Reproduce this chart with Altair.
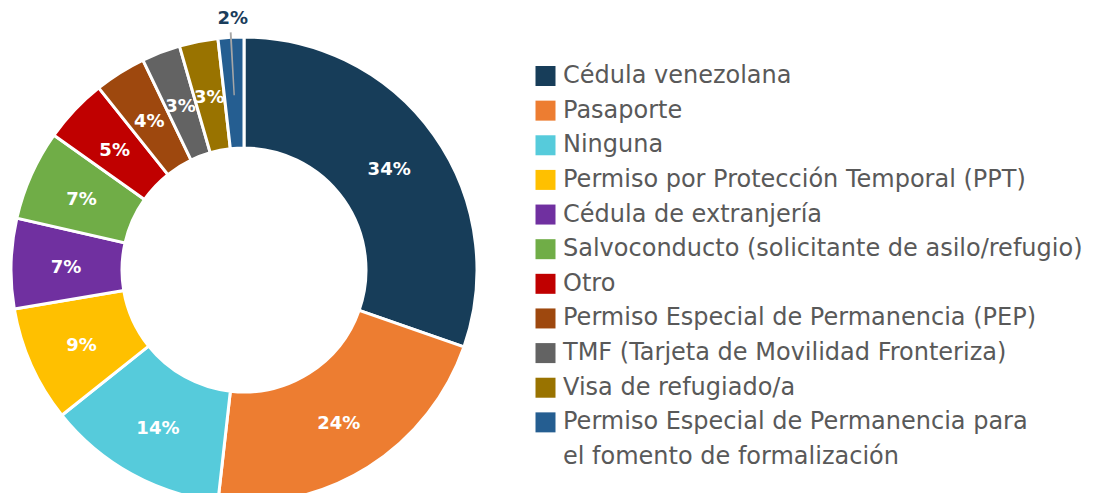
import altair as alt
import pandas as pd

categories = [
    "Cédula venezolana",
    "Pasaporte",
    "Ninguna",
    "Permiso por Protección Temporal (PPT)",
    "Cédula de extranjería",
    "Salvoconducto (solicitante de asilo/refugio)",
    "Otro",
    "Permiso Especial de Permanencia (PEP)",
    "TMF (Tarjeta de Movilidad Fronteriza)",
    "Visa de refugiado/a",
    "Permiso Especial de Permanencia para el fomento de formalización",
]
values = [34, 24, 14, 9, 7, 7, 5, 4, 3, 3, 2]
colors = ["#173d59", "#ed7d31", "#56cbdb", "#ffc000", "#7030a0", "#70ad47",
          "#c00000", "#9e480e", "#636363", "#997300", "#255e91"]
# legend lines (the last category wraps onto two lines)
legend_lines = categories[:-1] + [
    "Permiso Especial de Permanencia para",
    "el fomento de formalización",
]
legend_cats = categories + [""]

df = pd.DataFrame({"cat": categories, "val": values, "idx": list(range(len(values)))})
leg = pd.DataFrame({"line": list(range(len(legend_lines))), "txt": legend_lines, "cat": legend_cats})

CX, CY = 236, 262
FONT = "DejaVu Sans"
color_scale = alt.Scale(domain=categories, range=colors)

arcs = alt.Chart(df).mark_arc(
    outerRadius=233, innerRadius=122, stroke="white", strokeWidth=3
).encode(
    theta=alt.Theta("val:Q", stack=True),
    order=alt.Order("idx:Q", sort="ascending"),
    x=alt.value(CX), y=alt.value(CY),
    color=alt.Color("cat:N", scale=color_scale, legend=None),
)

positioned = alt.Chart(df).transform_window(
    cum="sum(val)", sort=[alt.SortField("idx", order="ascending")],
    frame=[None, 0],
).transform_joinaggregate(total="sum(val)").transform_calculate(
    mid="(datum.cum - datum.val / 2) / datum.total * 2 * PI",
)

labels = positioned.transform_calculate(
    lbl="datum.val + '%'",
    r="datum.idx == 10 ? 254 : 178",
    tc="datum.idx == 10 ? '#1a3d5c' : 'white'",
).transform_calculate(
    lx=f"{CX} + datum.r * sin(datum.mid) + (datum.idx == 10 ? 3 : 0)",
    ly=f"{CY + 3} - datum.r * cos(datum.mid)",
).mark_text(font=FONT, fontWeight="bold", fontSize=18, baseline="middle", align="center").encode(
    x=alt.X("lx:Q", scale=None, axis=None),
    y=alt.Y("ly:Q", scale=None, axis=None),
    text="lbl:N",
    color=alt.Color("tc:N", scale=None),
)

leader = positioned.transform_calculate(
    t1="datum.mid - 0.004", t2="datum.mid + 0.004",
).transform_filter("datum.idx == 10").mark_arc(
    innerRadius=175, outerRadius=238, color="#a6a6a6"
).encode(
    x=alt.value(CX), y=alt.value(CY),
    theta=alt.Theta("t1:Q", scale=None),
    theta2="t2:Q",
)

legend_y = alt.Y(
    "line:O",
    scale=alt.Scale(type="point", domain=list(range(len(legend_lines))), range=[68, 449], padding=0),
    axis=None,
)

leg_squares = alt.Chart(leg).transform_filter("datum.cat != ''").mark_square(
    size=400, opacity=1
).encode(
    x=alt.value(537.5),
    y=legend_y,
    color=alt.Color("cat:N", scale=color_scale, legend=None),
)

leg_text = alt.Chart(leg).mark_text(
    font=FONT, fontSize=24, color="#595959", align="left", baseline="middle"
).encode(
    x=alt.value(555),
    y=legend_y,
    text="txt:N",
)

chart = alt.layer(arcs, leader, labels, leg_squares, leg_text).resolve_scale(
    y="independent", x="independent"
).properties(
    width=1094, height=485, padding=0, autosize="none"
).configure_view(stroke=None)

chart.save("out.html", embed_options={"renderer": "svg", "actions": False})
